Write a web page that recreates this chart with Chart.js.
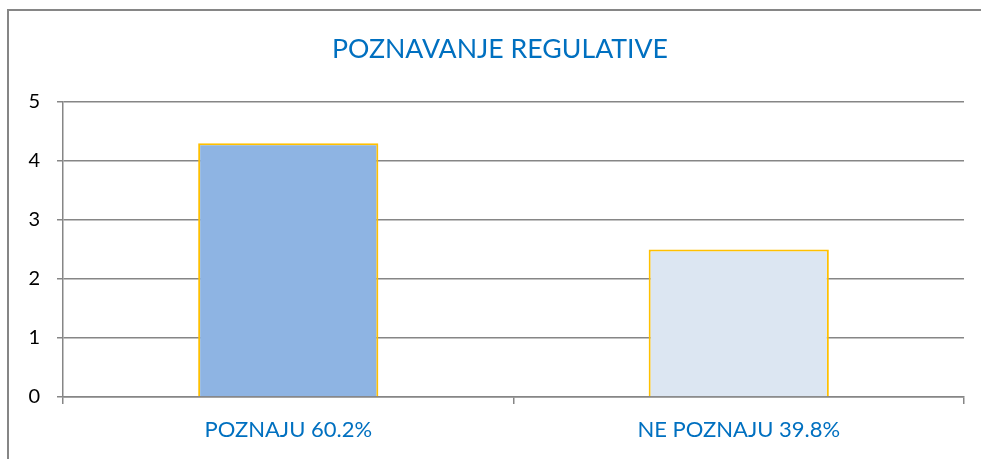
<!DOCTYPE html>
<html><head><meta charset="utf-8">
<script src="https://cdn.jsdelivr.net/npm/chart.js@4/dist/chart.umd.min.js"></script>
<style>html,body{margin:0;padding:0;background:#fff;}#wrap{width:981px;height:459px;position:relative;}</style>
</head><body><div id="wrap"><canvas id="c" width="981" height="459"></canvas></div>
<script>
const categories = ["POZNAJU 60.2%", "NE POZNAJU 39.8%"];
const values = [4.3, 2.5];
const barColors = ["#8EB4E3", "#DCE6F2"];
const yTicks = [0, 1, 2, 3, 4, 5];
const titleText = "POZNAVANJE REGULATIVE";

const frame = {
  id: 'frame',
  afterLayout(chart) {
    const t = chart.titleBlock;
    if (t) { t.left += 36; t.width = t.right - t.left; }
  },
  beforeDraw(chart) {
    const ctx = chart.ctx;
    ctx.save();
    ctx.strokeStyle = '#868686';
    ctx.lineWidth = 2;
    ctx.beginPath();
    ctx.moveTo(8, 459); ctx.lineTo(8, 10); ctx.lineTo(981, 10);
    ctx.stroke();
    ctx.restore();
  }
};

new Chart(document.getElementById('c'), {
  type: 'bar',
  data: {
    labels: categories,
    datasets: [{
      data: values,
      backgroundColor: barColors,
      borderColor: '#FFC000',
      borderWidth: 2,
      barPercentage: 0.4,
      categoryPercentage: 1
    }]
  },
  options: {
    responsive: false,
    animation: false,
    layout: { padding: { left: 0, right: 17, top: 0, bottom: 0 } },
    plugins: {
      legend: { display: false },
      tooltip: { enabled: false },
      title: {
        display: true,
        text: titleText,
        color: '#0070C0',
        font: { family: 'Lato', size: 26.7, weight: 'normal' },
        padding: { top: 33, bottom: 37 }
      }
    },
    scales: {
      x: {
        grid: { offset: true, drawOnChartArea: false, tickLength: 7, color: '#868686', lineWidth: 1.5 },
        border: { color: '#868686', width: 1.5 },
        ticks: { color: '#0070C0', font: { family: 'Lato', size: 22 }, padding: 13 },
        afterFit(s) { s.height = 62; }
      },
      y: {
        min: 0, max: 5,
        afterBuildTicks(s) { s.ticks = yTicks.map(v => ({ value: v })); },
        grid: { color: '#868686', lineWidth: 1.5, tickLength: 6 },
        border: { color: '#868686', width: 1.5 },
        ticks: { color: '#000000', font: { family: 'Lato', size: 20 }, padding: 17 },
        afterFit(s) { s.width = 63; }
      }
    }
  },
  plugins: [frame]
});
</script></body></html>
